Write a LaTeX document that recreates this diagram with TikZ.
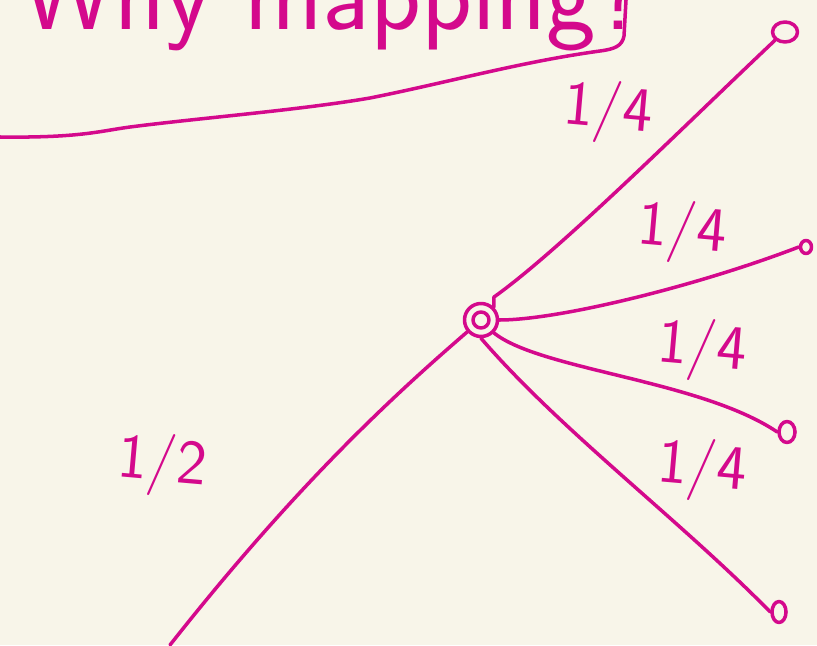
\documentclass[tikz,border=0pt]{standalone}
\usepackage{tikz}
\usetikzlibrary{shapes.geometric}

\definecolor{paper}{HTML}{F8F5E9}
\definecolor{ink}{HTML}{D4098C}

\begin{document}
\begin{tikzpicture}[
    x=0.02cm, y=-0.02cm,
    pen/.style={draw=ink, line width=2pt, line cap=round, line join=round},
    leaf/.style={pen, ellipse, inner sep=0pt},
    hubnode/.style={pen, circle, minimum size=0.66cm, inner sep=0pt},
    frac/.style={text=ink, font=\sffamily\fontsize{36}{40}\selectfont}
  ]
  \fill[paper] (0,0) rectangle (817,645);
  \useasboundingbox (0,0) rectangle (817,645);

  % heading, cut off by the top edge
  \begin{scope}
    \clip (0,0) rectangle (817,645);
    \node[text=ink, anchor=base west, font=\sffamily\fontsize{60}{70}\selectfont]
      (title) at (15,30) {Why mapping?};
    % frame round the heading
    \draw[pen] (626,0) -- (624,36) .. controls (622,46) and (615,49) .. (600,51)
      .. controls (520,62) and (450,82) .. (370,98)
      .. controls (300,110) and (200,118) .. (130,127)
      .. controls (100,131) and (80,138) .. (0,137);
  \end{scope}

  % tree
  \node[hubnode] (hub) at (481,320) {};
  \draw[pen] (hub.center) circle[radius=8];
  \node[leaf, minimum width=0.5cm, minimum height=0.4cm] (n1) at (785,32) {};
  \node[leaf, minimum width=0.22cm, minimum height=0.26cm] (n2) at (806,247) {};
  \node[leaf, minimum width=0.32cm, minimum height=0.42cm] (n3) at (787,432) {};
  \node[leaf, minimum width=0.28cm, minimum height=0.42cm] (n4) at (779,612) {};
  \coordinate (root) at (170,645);

  \draw[pen] (hub) .. controls (400,390) and (300,480) .. (root);
  \draw[pen] (hub.north east) -- ++(0,-10)
    .. controls (560,250) and (680,130) .. (n1.south west);
  \draw[pen] (hub.east) .. controls (560,320) and (700,285) .. (n2.west);
  \draw[pen] (hub.south east) .. controls (540,370) and (700,380) .. (n3.west);
  \draw[pen] (hub.south) .. controls (560,430) and (680,520) .. (n4.west);

  % weights
  \node[frac, rotate=-5] (w1) at (608,112) {1/4};
  \node[frac, rotate=-5] (w2) at (682,232) {1/4};
  \node[frac, rotate=-5] (w3) at (702,350) {1/4};
  \node[frac, rotate=-5] (w4) at (702,470) {1/4};
  \node[frac, rotate=-5] (w5) at (162,465) {1/2};
\end{tikzpicture}
\end{document}
